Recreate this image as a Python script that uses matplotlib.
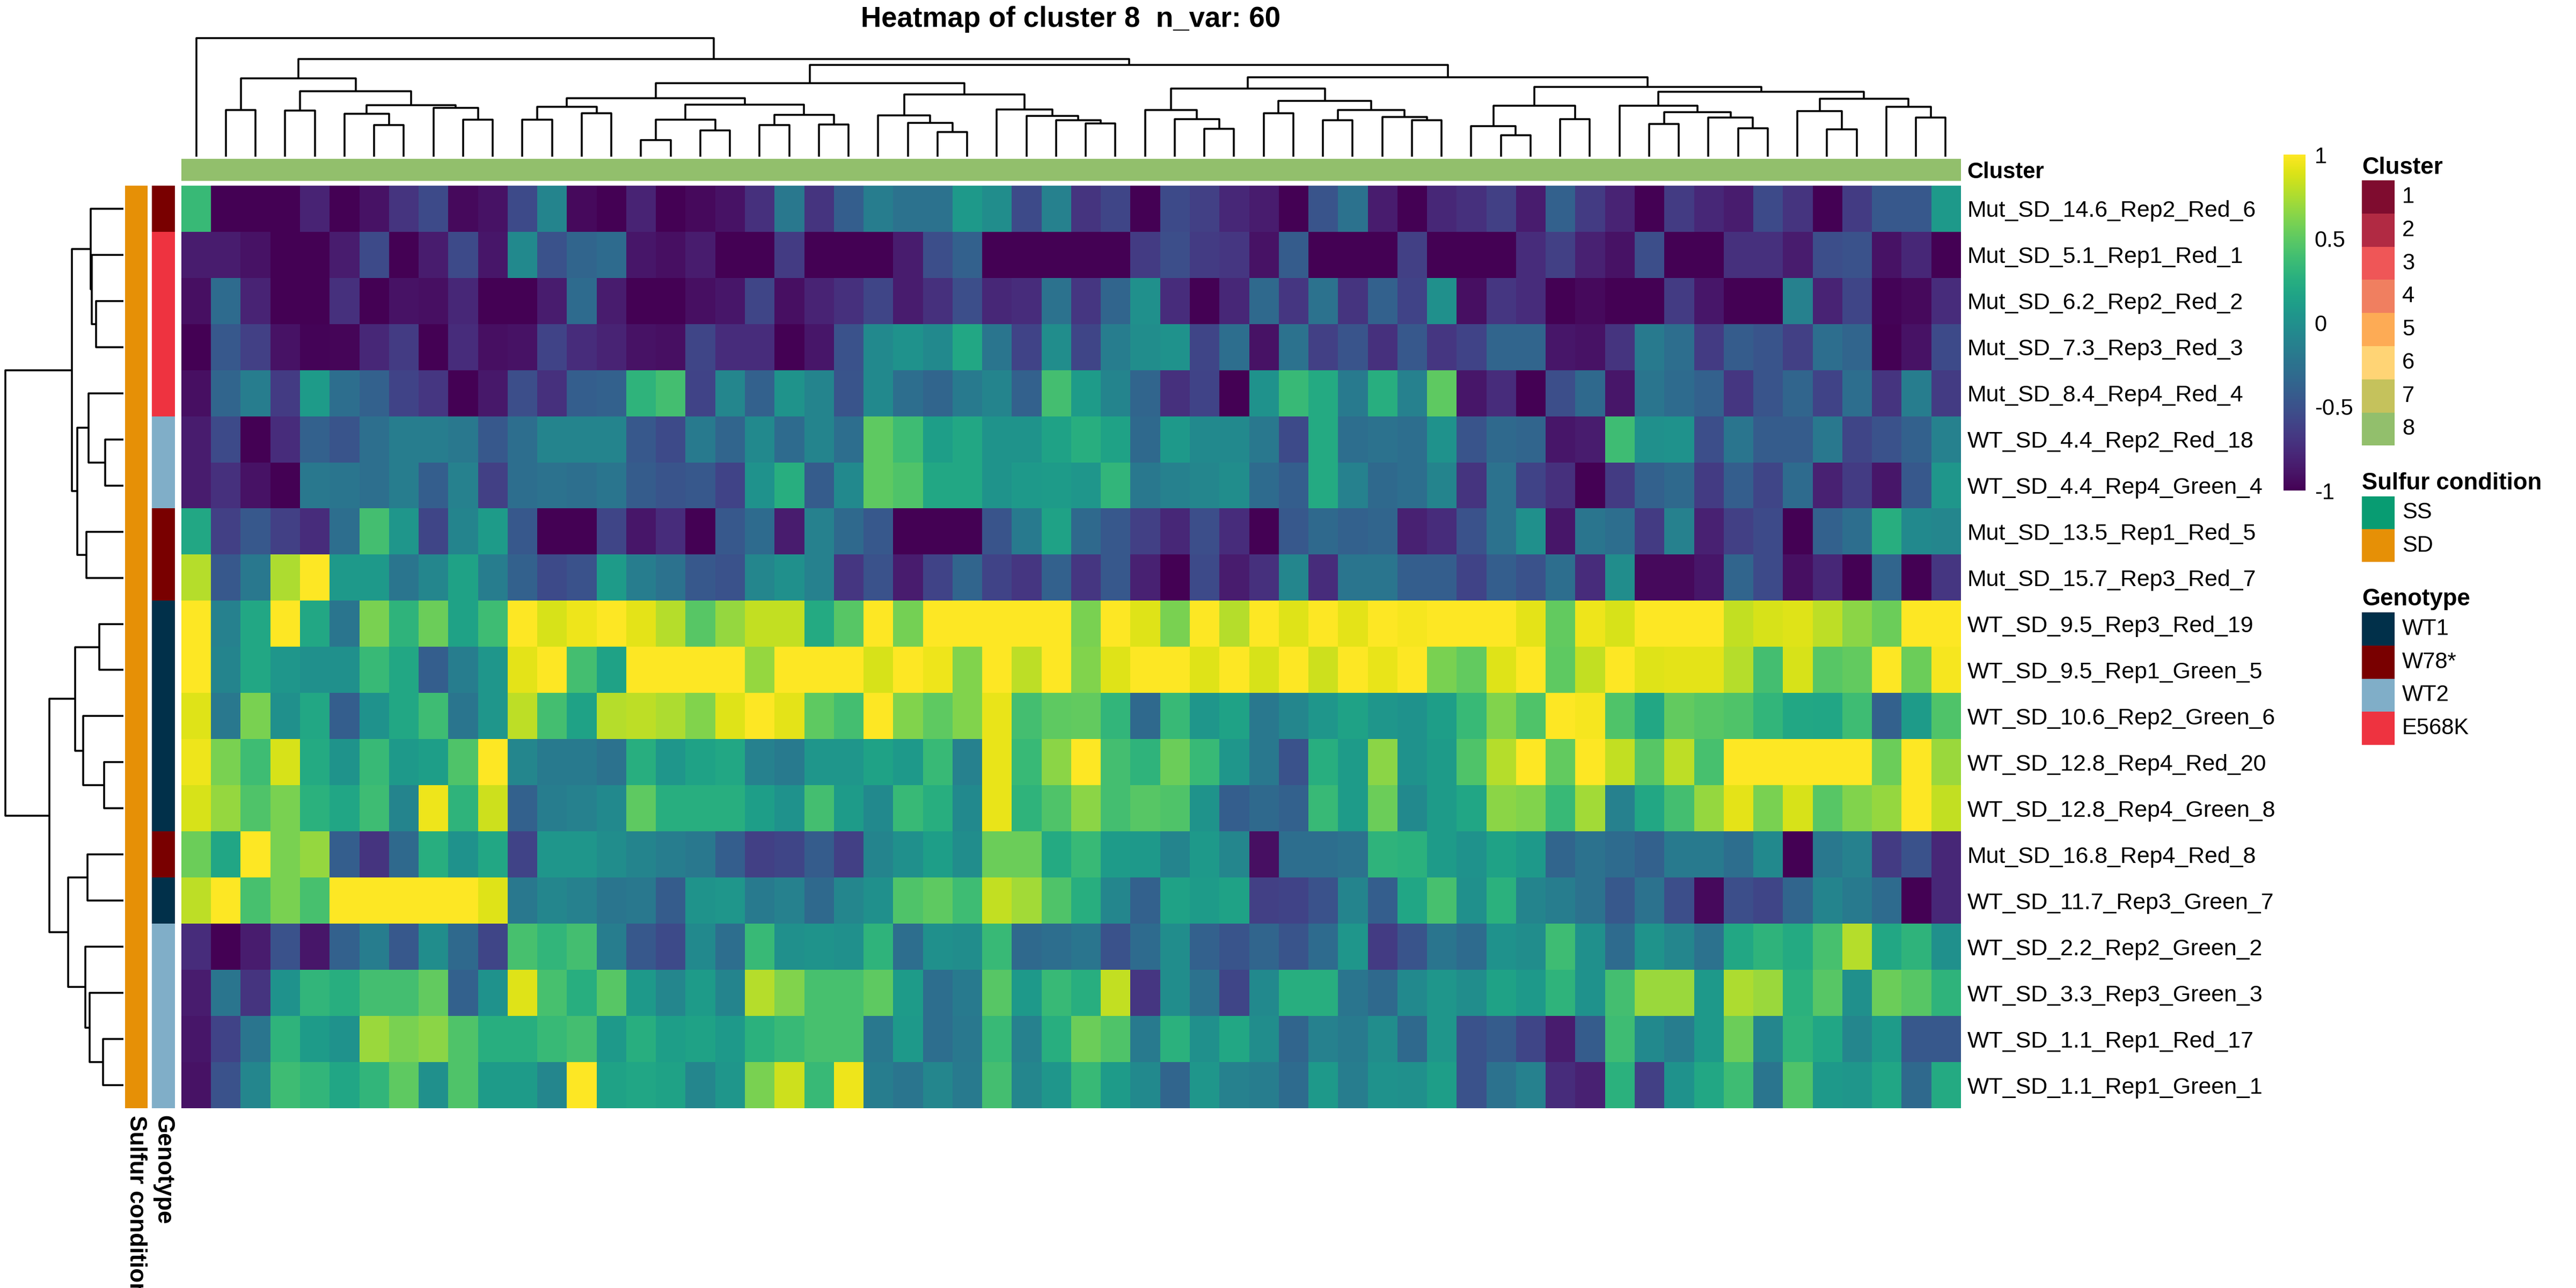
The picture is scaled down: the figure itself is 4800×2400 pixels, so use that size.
import numpy as np
import matplotlib
matplotlib.use("Agg")
import matplotlib.pyplot as plt
from matplotlib.colors import to_rgb, Normalize
from matplotlib.patches import Rectangle
import matplotlib.cm as cm

plt.rcParams['font.family'] = ['Liberation Sans', 'DejaVu Sans']

W, H = 4800, 2400
DPI = 300

title = "Heatmap of cluster 8  n_var: 60"

row_labels = [
    "Mut_SD_14.6_Rep2_Red_6", "Mut_SD_5.1_Rep1_Red_1", "Mut_SD_6.2_Rep2_Red_2",
    "Mut_SD_7.3_Rep3_Red_3", "Mut_SD_8.4_Rep4_Red_4", "WT_SD_4.4_Rep2_Red_18",
    "WT_SD_4.4_Rep4_Green_4", "Mut_SD_13.5_Rep1_Red_5", "Mut_SD_15.7_Rep3_Red_7",
    "WT_SD_9.5_Rep3_Red_19", "WT_SD_9.5_Rep1_Green_5", "WT_SD_10.6_Rep2_Green_6",
    "WT_SD_12.8_Rep4_Red_20", "WT_SD_12.8_Rep4_Green_8", "Mut_SD_16.8_Rep4_Red_8",
    "WT_SD_11.7_Rep3_Green_7", "WT_SD_2.2_Rep2_Green_2", "WT_SD_3.3_Rep3_Green_3",
    "WT_SD_1.1_Rep1_Red_17", "WT_SD_1.1_Rep1_Green_1",
]

row_genotype = ["W78*", "E568K", "E568K", "E568K", "E568K", "WT2", "WT2", "W78*", "W78*",
                "WT1", "WT1", "WT1", "WT1", "WT1", "W78*", "WT1", "WT2", "WT2", "WT2", "WT2"]
row_sulfur = ["SD"] * 20
col_cluster = [8] * 60

cluster_names = ["1", "2", "3", "4", "5", "6", "7", "8"]
cluster_colors = ["#7f0c2f", "#b12a43", "#ef5657", "#f07f60", "#fdab55", "#ffd475", "#c5c25c", "#92bf6c"]
sulfur_names = ["SS", "SD"]
sulfur_colors = ["#089c72", "#e69006"]
genotype_names = ["WT1", "W78*", "WT2", "E568K"]
genotype_colors = ["#01304a", "#790000", "#80aec8", "#ee3340"]

# values, one list per row, 60 columns each (already in dendrogram order)
values = [
    [0.35, -1, -1, -1, -0.8, -1, -0.9, -0.7, -0.55, -0.95, -0.9, -0.55, -0.1, -0.95, -1,
     -0.8, -1, -0.95, -0.9, -0.72, -0.2, -0.7, -0.4, -0.15, -0.25, -0.25, 0.08, -0.02, -0.55, -0.12,
     -0.7, -0.58, -1, -0.55, -0.62, -0.78, -0.85, -1, -0.48, -0.25, -0.85, -1, -0.78, -0.72, -0.62,
     -0.85, -0.38, -0.65, -0.8, -1, -0.65, -0.78, -0.85, -0.55, -0.7, -1, -0.65, -0.45, -0.45, 0.08],
    [-0.85, -0.85, -0.9, -1, -1, -0.85, -0.55, -1, -0.85, -0.55, -0.88, -0.05, -0.5, -0.35, -0.3,
     -0.88, -0.92, -0.85, -1, -1, -0.65, -1, -1, -1, -0.85, -0.52, -0.38, -1, -1, -1,
     -1, -1, -0.65, -0.52, -0.65, -0.68, -0.9, -0.42, -1, -1, -1, -0.62, -1, -1, -1,
     -0.75, -0.62, -0.82, -0.9, -0.52, -1, -1, -0.72, -0.72, -0.85, -0.52, -0.5, -0.9, -0.78, -1],
    [-0.92, -0.3, -0.8, -1, -1, -0.72, -1, -0.9, -0.92, -0.78, -1, -1, -0.85, -0.3, -0.85,
     -1, -1, -0.92, -0.88, -0.58, -0.92, -0.8, -0.72, -0.58, -0.85, -0.72, -0.52, -0.78, -0.75, -0.25,
     -0.68, -0.35, 0.0, -0.75, -1, -0.78, -0.32, -0.68, -0.25, -0.7, -0.38, -0.6, 0.0, -0.92, -0.68,
     -0.75, -1, -0.95, -1, -1, -0.65, -0.88, -1, -1, -0.12, -0.8, -0.58, -0.98, -0.95, -0.75],
    [-1, -0.45, -0.62, -0.9, -0.98, -0.97, -0.78, -0.65, -1, -0.75, -0.92, -0.9, -0.6, -0.75, -0.8,
     -0.9, -0.92, -0.58, -0.75, -0.75, -1, -0.88, -0.5, -0.05, 0.02, -0.05, 0.2, -0.22, -0.6, -0.02,
     -0.58, -0.15, -0.02, 0.02, -0.58, -0.28, -0.9, -0.25, -0.62, -0.48, -0.72, -0.45, -0.68, -0.6, -0.35,
     -0.35, -0.88, -0.9, -0.7, -0.18, -0.28, -0.65, -0.42, -0.48, -0.62, -0.28, -0.35, -1, -0.9, -0.55],
    [-0.92, -0.35, -0.15, -0.65, 0.1, -0.28, -0.38, -0.6, -0.68, -1, -0.87, -0.52, -0.72, -0.4, -0.38,
     0.3, 0.4, -0.6, -0.08, -0.38, 0.03, -0.1, -0.48, -0.05, -0.28, -0.35, -0.18, -0.1, -0.38, 0.4,
     0.1, -0.1, -0.35, -0.72, -0.6, -1, 0.02, 0.35, 0.22, -0.18, 0.25, -0.12, 0.5, -0.88, -0.75,
     -1, -0.52, -0.32, -0.88, -0.22, -0.3, -0.38, -0.68, -0.48, -0.35, -0.6, -0.28, -0.7, -0.15, -0.65],
    [-0.85, -0.55, -1, -0.75, -0.38, -0.48, -0.27, -0.15, -0.15, -0.2, -0.45, -0.28, -0.1, -0.1, -0.1,
     -0.45, -0.55, -0.18, -0.35, -0.05, -0.3, -0.1, -0.28, 0.5, 0.38, 0.12, 0.2, 0.03, 0.03, 0.15,
     0.25, 0.15, -0.32, 0.08, -0.05, -0.05, -0.2, -0.55, 0.22, -0.28, -0.25, -0.28, 0.02, -0.48, -0.32,
     -0.35, -0.88, -0.85, 0.38, 0.0, 0.02, -0.52, -0.22, -0.42, -0.42, -0.2, -0.58, -0.5, -0.38, -0.12],
    [-0.85, -0.72, -0.9, -1, -0.2, -0.22, -0.27, -0.15, -0.4, -0.12, -0.62, -0.28, -0.25, -0.27, -0.22,
     -0.42, -0.48, -0.45, -0.6, 0.02, 0.25, -0.42, -0.05, 0.5, 0.45, 0.2, 0.2, 0.03, 0.08, 0.1,
     0.05, 0.32, -0.2, -0.12, -0.08, -0.02, -0.3, -0.4, 0.22, -0.12, -0.32, -0.28, -0.1, -0.7, -0.25,
     -0.6, -0.72, -1, -0.65, -0.38, -0.32, -0.65, -0.4, -0.58, -0.3, -0.82, -0.65, -0.88, -0.45, 0.05],
    [0.2, -0.62, -0.45, -0.62, -0.75, -0.28, 0.4, 0.05, -0.58, -0.1, 0.1, -0.45, -1, -1, -0.58,
     -0.88, -0.75, -1, -0.45, -0.3, -0.85, -0.12, -0.32, -0.45, -1, -1, -1, -0.48, -0.18, 0.15,
     -0.32, -0.45, -0.62, -0.78, -0.52, -0.75, -1, -0.45, -0.32, -0.38, -0.35, -0.82, -0.75, -0.5, -0.25,
     0.0, -0.88, -0.22, -0.28, -0.65, -0.12, -0.82, -0.62, -0.55, -1, -0.38, -0.28, 0.25, -0.05, -0.08],
    [0.78, -0.45, -0.2, 0.75, 1, 0.08, 0.08, -0.22, -0.08, 0.15, -0.15, -0.38, -0.55, -0.5, 0.1,
     -0.15, -0.25, -0.45, -0.5, -0.08, 0.0, -0.12, -0.68, -0.5, -0.85, -0.6, -0.35, -0.6, -0.68, -0.38,
     -0.68, -0.45, -0.82, -1, -0.55, -0.85, -0.72, -0.08, -0.75, -0.22, -0.22, -0.4, -0.4, -0.6, -0.4,
     -0.5, -0.28, -0.75, -0.02, -0.95, -0.95, -0.88, -0.35, -0.55, -0.92, -0.78, -1, -0.35, -1, -0.68],
    [1, -0.12, 0.2, 1, 0.2, -0.22, 0.6, 0.3, 0.55, 0.15, 0.38, 1, 0.88, 0.95, 1,
     0.92, 0.78, 0.48, 0.68, 0.82, 0.82, 0.22, 0.48, 1, 0.58, 1, 1, 1, 1, 1,
     0.6, 1, 0.9, 0.6, 1, 0.78, 1, 0.9, 1, 0.92, 1, 0.97, 1, 1, 1,
     0.92, 0.52, 0.95, 0.88, 1, 1, 1, 0.82, 0.88, 0.9, 0.8, 0.65, 0.55, 1, 1],
    [1, -0.1, 0.2, 0.05, 0.0, 0.0, 0.35, 0.2, -0.4, -0.15, 0.05, 0.92, 1, 0.4, 0.15,
     1, 1, 1, 1, 0.68, 1, 1, 1, 0.88, 1, 0.95, 0.62, 1, 0.8, 1,
     0.62, 0.9, 1, 1, 0.9, 1, 0.88, 1, 0.85, 1, 0.93, 1, 0.6, 0.52, 0.9,
     1, 0.5, 0.82, 1, 0.9, 0.92, 0.92, 0.78, 0.4, 0.88, 0.48, 0.52, 1, 0.55, 0.97],
    [0.9, -0.2, 0.6, 0.0, 0.2, -0.4, 0.02, 0.2, 0.38, -0.22, 0.05, 0.8, 0.4, 0.15, 0.78,
     0.8, 0.75, 0.62, 0.9, 1, 0.92, 0.5, 0.4, 1, 0.62, 0.5, 0.62, 0.93, 0.4, 0.5,
     0.52, 0.32, -0.32, 0.35, 0.05, 0.15, -0.2, -0.08, 0.05, 0.15, 0.05, 0.02, 0.12, 0.35, 0.62,
     0.45, 1, 0.97, 0.45, 0.2, 0.52, 0.48, 0.45, 0.32, 0.2, 0.18, 0.38, -0.38, 0.1, 0.45],
    [0.95, 0.6, 0.38, 0.88, 0.22, 0.03, 0.35, 0.08, 0.12, 0.45, 1, -0.08, -0.18, -0.18, -0.25,
     0.25, 0.05, 0.15, 0.2, -0.12, -0.18, 0.05, 0.05, 0.15, 0.08, 0.35, -0.12, 0.93, 0.35, 0.65,
     1, 0.4, 0.3, 0.55, 0.35, 0.05, -0.2, -0.5, 0.25, 0.1, 0.65, 0.02, 0.1, 0.45, 0.78,
     1, 0.52, 1, 0.82, 0.48, 0.8, 0.42, 1, 1, 1, 1, 1, 0.55, 1, 0.7],
    [0.88, 0.68, 0.45, 0.6, 0.28, 0.18, 0.38, -0.1, 0.95, 0.3, 0.85, -0.38, -0.15, -0.12, -0.05,
     0.5, 0.25, 0.25, 0.25, 0.12, 0.02, 0.4, 0.1, -0.05, 0.35, 0.25, -0.05, 0.93, 0.3, 0.45,
     0.65, 0.4, 0.48, 0.45, 0.03, -0.4, -0.32, -0.38, 0.35, 0.1, 0.55, -0.05, 0.1, 0.18, 0.65,
     0.62, 0.35, 0.72, -0.12, 0.2, 0.4, 0.68, 0.92, 0.6, 0.88, 0.48, 0.62, 0.68, 1, 0.82],
    [0.55, 0.18, 1, 0.6, 0.68, -0.4, -0.7, -0.32, 0.25, 0.02, 0.2, -0.6, 0.05, 0.05, -0.02,
     -0.1, -0.15, -0.2, -0.4, -0.62, -0.58, -0.42, -0.62, -0.1, 0.0, 0.12, -0.02, 0.55, 0.55, 0.22,
     0.35, 0.1, 0.08, -0.1, 0.08, -0.08, -0.92, -0.28, -0.28, -0.25, 0.3, 0.28, 0.1, 0.02, 0.15,
     0.08, -0.35, -0.25, -0.3, -0.38, -0.18, -0.18, -0.28, -0.05, -1, -0.2, -0.12, -0.65, -0.5, -0.78],
    [0.8, 1, 0.42, 0.6, 0.42, 1, 1, 1, 1, 1, 0.9, -0.2, -0.08, -0.12, -0.22,
     -0.2, -0.42, 0.03, 0.05, -0.18, -0.12, -0.32, -0.08, 0.0, 0.45, 0.5, 0.38, 0.82, 0.72, 0.45,
     0.25, -0.08, -0.38, 0.15, 0.1, 0.15, -0.62, -0.6, -0.5, -0.1, -0.4, 0.18, 0.42, 0.0, 0.28,
     -0.1, -0.15, -0.25, -0.45, -0.25, -0.52, -0.95, -0.52, -0.58, -0.35, -0.1, -0.18, -0.3, -1, -0.78],
    [-0.75, -1, -0.85, -0.5, -0.88, -0.38, -0.15, -0.45, -0.02, -0.32, -0.58, 0.42, 0.32, 0.4, -0.15,
     -0.45, -0.55, -0.05, -0.28, 0.35, 0.0, 0.03, 0.0, 0.3, -0.28, 0.0, -0.02, 0.35, -0.32, -0.28,
     -0.22, -0.5, -0.3, -0.02, -0.38, -0.48, -0.35, -0.48, -0.3, 0.05, -0.65, -0.48, -0.22, -0.3, 0.02,
     -0.02, 0.38, 0.0, -0.3, 0.03, -0.08, -0.25, 0.2, 0.3, 0.22, 0.42, 0.78, 0.2, 0.3, 0.0],
    [-0.85, -0.22, -0.7, 0.02, 0.32, 0.25, 0.4, 0.4, 0.52, -0.38, 0.02, 0.9, 0.42, 0.25, 0.48,
     0.08, -0.08, 0.1, -0.1, 0.78, 0.62, 0.42, 0.42, 0.5, 0.1, -0.28, -0.18, 0.48, 0.08, 0.35,
     0.25, 0.82, -0.68, -0.02, -0.25, -0.58, -0.05, 0.25, 0.25, -0.22, -0.32, -0.05, 0.05, -0.02, 0.15,
     0.08, 0.3, 0.02, 0.4, 0.7, 0.7, 0.08, 0.75, 0.7, 0.28, 0.48, 0.0, 0.55, 0.48, 0.3],
    [-0.88, -0.6, -0.22, 0.3, 0.1, 0.02, 0.7, 0.6, 0.65, 0.45, 0.25, 0.25, 0.35, 0.4, 0.08,
     0.25, 0.12, 0.15, 0.08, 0.28, 0.35, 0.42, 0.42, -0.2, 0.08, -0.28, -0.2, 0.35, -0.12, 0.25,
     0.55, 0.45, -0.18, 0.28, 0.0, 0.2, -0.02, -0.35, -0.12, -0.18, -0.02, -0.32, 0.05, -0.5, -0.42,
     -0.58, -0.85, -0.42, 0.38, -0.05, -0.15, 0.08, 0.55, -0.08, 0.3, 0.18, -0.08, 0.1, -0.45, -0.45],
    [-0.9, -0.5, -0.08, 0.38, 0.32, 0.18, 0.32, 0.5, 0.0, 0.45, 0.1, 0.1, -0.08, 1, 0.15,
     0.18, 0.15, -0.08, 0.05, 0.6, 0.85, 0.35, 0.95, -0.15, -0.22, -0.08, -0.18, 0.4, -0.08, 0.05,
     0.35, 0.1, -0.05, -0.35, 0.05, -0.12, -0.15, -0.3, 0.08, -0.15, 0.02, 0.0, 0.12, -0.5, -0.25,
     -0.12, -0.75, -0.82, 0.28, -0.62, 0.02, 0.2, 0.38, -0.22, 0.45, 0.08, 0.05, 0.18, -0.32, 0.22],
]

# dendrograms as linkage lists: [left, right, height]; ids >= n point to earlier merges
col_merges = [
    [1, 2, 258], [3, 4, 255], [6, 7, 175], [5, 62, 237], [9, 10, 205], [8, 64, 270],
    [63, 65, 286], [61, 66, 363], [60, 67, 435],
    [11, 12, 205], [13, 14, 240], [69, 70, 276], [15, 16, 91], [17, 18, 145], [72, 73, 205],
    [19, 20, 175], [21, 22, 180], [75, 76, 232], [74, 77, 288], [71, 78, 324],
    [25, 26, 138], [24, 80, 188], [23, 81, 228], [30, 31, 185], [29, 83, 203], [28, 84, 225],
    [27, 85, 261], [82, 86, 345], [79, 87, 408],
    [34, 35, 155], [33, 89, 207], [32, 90, 258], [36, 37, 240], [41, 42, 201], [40, 93, 220],
    [38, 39, 201], [95, 94, 258], [92, 96, 310], [91, 97, 378],
    [44, 45, 118], [43, 99, 171], [46, 47, 207], [100, 101, 283], [49, 50, 183], [52, 53, 158],
    [51, 104, 216], [103, 105, 248], [48, 106, 283], [55, 56, 153], [54, 108, 252], [58, 59, 218],
    [57, 110, 276], [109, 111, 321], [107, 112, 359], [102, 113, 386], [98, 114, 441],
    [88, 115, 508], [68, 116, 543], [0, 117, 658],
]

row_merges = [
    [2, 3, 152], [1, 20, 178], [0, 21, 182], [5, 6, 102], [4, 23, 195], [7, 8, 206],
    [24, 25, 258], [22, 26, 288], [9, 10, 134], [12, 13, 108], [11, 29, 225], [28, 30, 270],
    [14, 15, 201], [18, 19, 113], [17, 33, 189], [16, 34, 213], [32, 35, 309], [31, 36, 414],
    [27, 37, 660],
]


def box(x0, y0, x1, y1):
    # pixel box (top-left origin) -> figure fraction rect
    return [x0 / W, 1 - y1 / H, (x1 - x0) / W, (y1 - y0) / H]


def dendro_lines(merges, n):
    pos = {i: i + 0.5 for i in range(n)}
    hgt = {i: 0.0 for i in range(n)}
    lines = []
    for k, (a, b, h) in enumerate(merges):
        lines.append(([pos[a], pos[a], pos[b], pos[b]], [hgt[a], h, h, hgt[b]]))
        pos[n + k] = (pos[a] + pos[b]) / 2
        hgt[n + k] = h
    return lines


def colour_column(names, keys, colours):
    lut = dict(zip(keys, colours))
    return np.array([[to_rgb(lut[v])] for v in names])


def main():
    data = np.array(values)
    nr, nc = data.shape
    fig = plt.figure(figsize=(W / DPI, H / DPI), dpi=DPI)

    # heatmap body
    ax = fig.add_axes(box(338, 346, 3653, 2065))
    ax.imshow(data, cmap='viridis', vmin=-1, vmax=1, aspect='auto',
              interpolation='nearest', extent=(0, nc, nr, 0))
    ax.set_xticks([])
    ax.yaxis.tick_right()
    ax.set_yticks(np.arange(nr) + 0.5)
    ax.set_yticklabels(row_labels, fontsize=10.3)
    ax.tick_params(axis='y', length=0, pad=3)
    for s in ax.spines.values():
        s.set_visible(False)

    # column annotation
    axc = fig.add_axes(box(338, 296, 3653, 337))
    crgb = np.array([[to_rgb(cluster_colors[cluster_names.index(str(c))]) for c in col_cluster]])
    axc.imshow(crgb, aspect='auto', interpolation='nearest', extent=(0, nc, 1, 0))
    axc.set_xticks([])
    axc.yaxis.tick_right()
    axc.set_yticks([0.5])
    axc.set_yticklabels(["Cluster"], fontsize=10, fontweight='bold')
    axc.tick_params(axis='y', length=0, pad=3)
    for s in axc.spines.values():
        s.set_visible(False)

    # row annotations
    for (x0, x1), names, keys, cols, lab in [
            ((233, 274), row_sulfur, sulfur_names, sulfur_colors, "Sulfur condition"),
            ((283, 325), row_genotype, genotype_names, genotype_colors, "Genotype")]:
        a = fig.add_axes(box(x0, 346, x1, 2065))
        a.imshow(colour_column(names, keys, cols), aspect='auto',
                 interpolation='nearest', extent=(0, 1, nr, 0))
        a.set_yticks([])
        a.set_xticks([0.5])
        a.set_xticklabels([lab], rotation=-90, fontsize=10.6, fontweight='bold', va='top')
        a.tick_params(axis='x', length=0, pad=3)
        for s in a.spines.values():
            s.set_visible(False)

    # column dendrogram
    axd = fig.add_axes(box(338, 71, 3653, 292))
    for xs, ys in dendro_lines(col_merges, nc):
        axd.plot(xs, ys, color='black', lw=0.85, clip_on=False, solid_capstyle='butt')
    axd.set_xlim(0, nc)
    axd.set_ylim(0, max(m[2] for m in col_merges))
    axd.axis('off')

    # row dendrogram
    axr = fig.add_axes(box(10, 346, 230, 2065))
    for ps, hs in dendro_lines(row_merges, nr):
        axr.plot(hs, ps, color='black', lw=0.85, clip_on=False, solid_capstyle='butt')
    axr.set_xlim(max(m[2] for m in row_merges), 0)
    axr.set_ylim(nr, 0)
    axr.axis('off')

    # title
    fig.text(1995 / W, 1 - 50 / H, title, ha='center', va='baseline',
             fontsize=12.7, fontweight='bold')

    # colour bar
    cax = fig.add_axes(box(4255, 288, 4296, 914))
    cb = fig.colorbar(cm.ScalarMappable(norm=Normalize(-1, 1), cmap='viridis'), cax=cax)
    cb.outline.set_visible(False)
    cb.set_ticks([1, 0.5, 0, -0.5, -1])
    cb.set_ticklabels(["1", "0.5", "0", "-0.5", "-1"])
    cax.tick_params(length=0, labelsize=10, pad=4)

    # discrete legends, drawn in pixel space
    ov = fig.add_axes([0, 0, 1, 1])
    ov.set_xlim(0, W)
    ov.set_ylim(H, 0)
    ov.axis('off')
    lx, sw = 4401, 61
    for title_txt, base, top, sh, names, cols in [
            ("Cluster", 324, 336, 61.8, cluster_names, cluster_colors),
            ("Sulfur condition", 912, 925, 61.0, sulfur_names, sulfur_colors),
            ("Genotype", 1128, 1141, 61.8, genotype_names, genotype_colors)]:
        ov.text(lx, base, title_txt, fontsize=10.5, fontweight='bold', va='baseline', ha='left')
        for i, (nm, col) in enumerate(zip(names, cols)):
            ov.add_patch(Rectangle((lx, top + i * sh), sw, sh, facecolor=col, edgecolor='none'))
            ov.text(lx + 75, top + (i + 0.5) * sh, nm, fontsize=10, va='center', ha='left')

    fig.savefig("out.png", dpi=DPI)
    plt.close(fig)


if __name__ == "__main__":
    main()
